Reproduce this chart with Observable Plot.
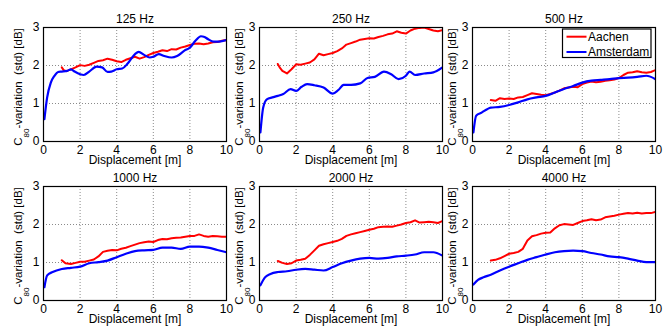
<!DOCTYPE html>
<html><head><meta charset="utf-8">
<script src="https://cdn.jsdelivr.net/npm/d3@7"></script>
<script src="https://cdn.jsdelivr.net/npm/@observablehq/plot@0.6"></script>
<style>
body{margin:0;background:#fff;}
#chart{position:relative;width:670px;height:328px;overflow:hidden;font-family:"Liberation Sans",Arial,Helvetica,sans-serif;}
#chart svg{position:absolute;overflow:visible;}
</style></head><body><div id="chart"></div>
<script>
const titles = ["125 Hz", "250 Hz", "500 Hz", "1000 Hz", "2000 Hz", "4000 Hz"];
const seriesNames = ["Aachen", "Amsterdam"];
const xTicks = [0, 2, 4, 6, 8, 10];
const yTicks = [0, 1, 2, 3];
const xLabel = "Displacement [m]";

const aachen125 = [[1,1.95],[1.1,1.88],[1.25,1.85],[1.5,1.90],[1.75,1.95],[2,2.01],[2.25,1.99],[2.5,2.02],[2.75,2.07],[3,2.12],[3.25,2.14],[3.5,2.18],[3.75,2.15],[4,2.11],[4.25,2.09],[4.5,2.15],[4.75,2.19],[5,2.23],[5.25,2.18],[5.5,2.22],[5.75,2.28],[6,2.33],[6.25,2.36],[6.5,2.40],[6.75,2.38],[7,2.43],[7.25,2.42],[7.5,2.47],[7.75,2.50],[8,2.54],[8.25,2.57],[8.5,2.58],[8.75,2.56],[9,2.58],[9.25,2.61],[9.5,2.62],[9.75,2.65],[10,2.67]];
const amsterdam125 = [[0.05,0.59],[0.2,1.16],[0.4,1.55],[0.6,1.73],[0.8,1.83],[1,1.84],[1.3,1.86],[1.5,1.90],[1.7,1.84],[2,1.77],[2.2,1.75],[2.5,1.84],[2.9,1.97],[3.2,1.95],[3.5,1.83],[3.7,1.84],[4,1.90],[4.3,1.92],[4.6,2.05],[5,2.30],[5.2,2.36],[5.5,2.28],[5.8,2.21],[6,2.23],[6.3,2.30],[6.6,2.25],[7,2.21],[7.3,2.25],[7.7,2.39],[8,2.47],[8.3,2.65],[8.6,2.77],[8.8,2.75],[9,2.69],[9.3,2.63],[9.6,2.63],[10,2.67]];

const aachen250 = [[1,2.04],[1.1,1.95],[1.25,1.86],[1.5,1.79],[1.75,1.90],[2,2.03],[2.25,2.02],[2.5,2.05],[2.75,2.08],[3,2.16],[3.25,2.31],[3.5,2.27],[3.75,2.30],[4,2.33],[4.25,2.38],[4.5,2.45],[4.75,2.55],[5,2.59],[5.25,2.63],[5.5,2.68],[5.75,2.70],[6,2.72],[6.25,2.71],[6.5,2.75],[6.75,2.78],[7,2.82],[7.25,2.84],[7.5,2.90],[7.75,2.86],[8,2.84],[8.25,2.92],[8.5,2.97],[8.75,2.99],[9,3.00],[9.25,2.96],[9.5,2.92],[9.75,2.90],[10,2.93]];
const amsterdam250 = [[0.05,0.24],[0.2,0.89],[0.4,1.11],[0.7,1.16],[1,1.20],[1.3,1.25],[1.7,1.38],[2,1.33],[2.3,1.44],[2.6,1.51],[3,1.48],[3.5,1.42],[4,1.26],[4.3,1.35],[4.6,1.49],[5,1.49],[5.5,1.53],[5.9,1.67],[6.3,1.70],[6.8,1.84],[7.2,1.77],[7.6,1.64],[8,1.73],[8.2,1.84],[8.5,1.75],[9,1.79],[9.5,1.82],[10,1.95]];

const aachen500 = [[1,1.09],[1.25,1.07],[1.5,1.14],[1.75,1.12],[2,1.13],[2.25,1.12],[2.5,1.16],[2.75,1.17],[3,1.22],[3.25,1.27],[3.5,1.25],[3.75,1.23],[4,1.22],[4.25,1.25],[4.5,1.29],[4.75,1.34],[5,1.40],[5.25,1.42],[5.5,1.44],[5.75,1.43],[6,1.51],[6.25,1.55],[6.5,1.58],[6.75,1.56],[7,1.57],[7.25,1.60],[7.5,1.61],[7.75,1.63],[8,1.67],[8.25,1.75],[8.5,1.81],[8.75,1.82],[9,1.85],[9.25,1.82],[9.5,1.81],[9.75,1.83],[10,1.88]];
const amsterdam500 = [[0.05,0.24],[0.2,0.68],[0.5,0.76],[0.8,0.85],[1,0.89],[1.5,0.91],[2,0.96],[2.5,1.03],[3,1.11],[3.5,1.16],[4,1.20],[4.5,1.29],[5,1.38],[5.5,1.46],[6,1.55],[6.5,1.60],[7,1.62],[7.5,1.64],[8,1.67],[8.5,1.68],[9,1.70],[9.5,1.73],[10,1.64]];

const aachen1000 = [[1,1.06],[1.2,0.98],[1.5,0.96],[1.75,0.99],[2,1.02],[2.25,1.02],[2.5,1.05],[2.75,1.08],[3,1.16],[3.25,1.28],[3.5,1.31],[3.75,1.33],[4,1.32],[4.25,1.36],[4.5,1.39],[4.75,1.43],[5,1.47],[5.25,1.51],[5.5,1.53],[5.75,1.55],[6,1.54],[6.25,1.59],[6.5,1.62],[6.75,1.61],[7,1.64],[7.25,1.65],[7.5,1.66],[7.75,1.68],[8,1.70],[8.25,1.70],[8.5,1.74],[8.75,1.70],[9,1.68],[9.25,1.70],[9.5,1.69],[9.75,1.68],[10,1.68]];
const amsterdam1000 = [[0.05,0.35],[0.2,0.66],[0.5,0.75],[1,0.83],[1.5,0.86],[2,0.89],[2.5,0.98],[3,1.01],[3.5,1.05],[4,1.14],[4.5,1.23],[5,1.30],[5.5,1.32],[6,1.33],[6.5,1.39],[7,1.39],[7.5,1.36],[8,1.42],[8.5,1.42],[9,1.39],[9.5,1.33],[10,1.27]];

const aachen2000 = [[1,1.04],[1.25,0.99],[1.5,0.96],[1.75,0.98],[2,1.05],[2.25,1.07],[2.5,1.10],[2.75,1.20],[3,1.32],[3.25,1.44],[3.5,1.48],[3.75,1.51],[4,1.54],[4.25,1.57],[4.5,1.62],[4.75,1.70],[5,1.74],[5.25,1.77],[5.5,1.80],[5.75,1.83],[6,1.86],[6.25,1.89],[6.5,1.93],[6.75,1.94],[7,1.95],[7.25,1.94],[7.5,1.97],[7.75,2.00],[8,2.04],[8.25,2.06],[8.5,2.11],[8.75,2.05],[9,2.06],[9.25,2.07],[9.5,2.06],[9.75,2.04],[10,2.09]];
const amsterdam2000 = [[0.05,0.40],[0.3,0.61],[0.6,0.70],[1,0.75],[1.5,0.77],[2,0.81],[2.5,0.83],[3,0.81],[3.5,0.79],[4,0.88],[4.5,0.98],[5,1.05],[5.5,1.10],[6,1.12],[6.5,1.10],[7,1.12],[7.5,1.16],[8,1.18],[8.5,1.21],[9,1.27],[9.5,1.27],[10,1.18]];

const aachen4000 = [[1,1.05],[1.25,1.07],[1.5,1.11],[1.75,1.17],[2,1.23],[2.25,1.25],[2.5,1.28],[2.75,1.36],[3,1.58],[3.25,1.69],[3.5,1.72],[3.75,1.76],[4,1.78],[4.25,1.79],[4.5,1.90],[4.75,1.98],[5,2.01],[5.25,2.00],[5.5,1.99],[5.75,2.04],[6,2.09],[6.25,2.11],[6.5,2.14],[6.75,2.11],[7,2.13],[7.25,2.19],[7.5,2.21],[7.75,2.23],[8,2.26],[8.25,2.28],[8.5,2.30],[8.75,2.29],[9,2.31],[9.25,2.29],[9.5,2.30],[9.75,2.30],[10,2.33]];
const amsterdam4000 = [[0.05,0.42],[0.3,0.54],[0.6,0.61],[1,0.68],[1.5,0.79],[2,0.89],[2.5,0.98],[3,1.07],[3.5,1.14],[4,1.21],[4.5,1.27],[5,1.30],[5.5,1.31],[6,1.30],[6.5,1.25],[7,1.21],[7.5,1.16],[8,1.14],[8.5,1.10],[9,1.05],[9.5,1.01],[10,1.01]];

const aachenSeries = [aachen125, aachen250, aachen500, aachen1000, aachen2000, aachen4000];
const amsterdamSeries = [amsterdam125, amsterdam250, amsterdam500, amsterdam1000, amsterdam2000, amsterdam4000];

const RED = "#ff0000", BLUE = "#0000ff";
const FONT = '"Liberation Sans", Arial, Helvetica, sans-serif';
const colLeft = [0, 216, 429];
const rowTop = [0, 158.5];
const yLabelOffset = [-21, -16, -16];
const ML = 43, MT = 27, MR = 14, MB = 30, FW = 183, FH = 114;

const chart = document.getElementById("chart");

titles.forEach((title, i) => {
  const col = i % 3, row = Math.floor(i / 3);
  const plot = Plot.plot({
    width: ML + FW + MR, height: MT + FH + MB,
    marginLeft: ML, marginRight: MR, marginTop: MT, marginBottom: MB,
    x: {domain: [0, 10]},
    y: {domain: [0, 3]},
    style: {fontFamily: FONT, fontSize: "12px", background: "transparent", color: "black", overflow: "visible"},
    marks: [
      Plot.gridX({ticks: xTicks, stroke: "#8a8a8a", strokeOpacity: 1, strokeDasharray: "1,2"}),
      Plot.gridY({ticks: yTicks, stroke: "#8a8a8a", strokeOpacity: 1, strokeDasharray: "1,2"}),
      Plot.axisX({ticks: xTicks, tickSize: 0, tickPadding: 4, tickFormat: "d", label: null, fill: "black", fontSize: 12}),
      Plot.axisY({ticks: yTicks, tickSize: 0, tickPadding: 4, tickFormat: "d", label: null, fill: "black", fontSize: 12}),
      Plot.line(aachenSeries[i], {x: d => d[0], y: d => d[1], stroke: RED, strokeWidth: 2, clip: true}),
      Plot.line(amsterdamSeries[i], {x: d => d[0], y: d => d[1], stroke: BLUE, strokeWidth: 2.2, curve: "monotone-x", clip: true}),
      Plot.frame({stroke: "black", strokeWidth: 1.2}),
      Plot.text([title], {text: d => d, frameAnchor: "top", dy: -13, fontSize: 12, fill: "black"}),
      Plot.text([xLabel], {text: d => d, frameAnchor: "bottom", dy: 22, fontSize: 12, fill: "black"})
    ]
  });
  plot.setAttribute("font-family", FONT);
  plot.style.left = colLeft[col] + "px";
  plot.style.top = rowTop[row] + "px";
  const svg = d3.select(plot);
  const t = svg.append("text")
    .attr("transform", `translate(${ML + yLabelOffset[col]},${MT + 60}) rotate(-90)`)
    .attr("text-anchor", "middle")
    .attr("fill", "black")
    .style("font-family", FONT)
    .style("font-size", "11.5px")
    .style("white-space", "pre");
  t.append("tspan").text("C");
  t.append("tspan").attr("dy", 7).style("font-size", "8px").text("80");
  t.append("tspan").attr("dy", -7).text("-variation  (std) [dB]");

  if (i === 2) {
    const g = svg.append("g").attr("transform", `translate(${ML + 90.5},${MT + 2})`);
    g.append("rect").attr("width", 88.5).attr("height", 28.5).attr("fill", "white").attr("stroke", "black").attr("stroke-width", 1.2);
    [RED, BLUE].forEach((c, k) => {
      const yy = 7.7 + k * 15.3;
      g.append("line").attr("x1", 4).attr("x2", 24).attr("y1", yy).attr("y2", yy).attr("stroke", c).attr("stroke-width", 2);
      g.append("text").attr("x", 25.5).attr("y", yy).attr("dy", "0.36em").attr("fill", "black")
        .attr("text-anchor", "start")
        .style("font-family", FONT).style("font-size", "12px").text(seriesNames[k]);
    });
  }
  chart.appendChild(plot);
});
</script>
</body></html>
